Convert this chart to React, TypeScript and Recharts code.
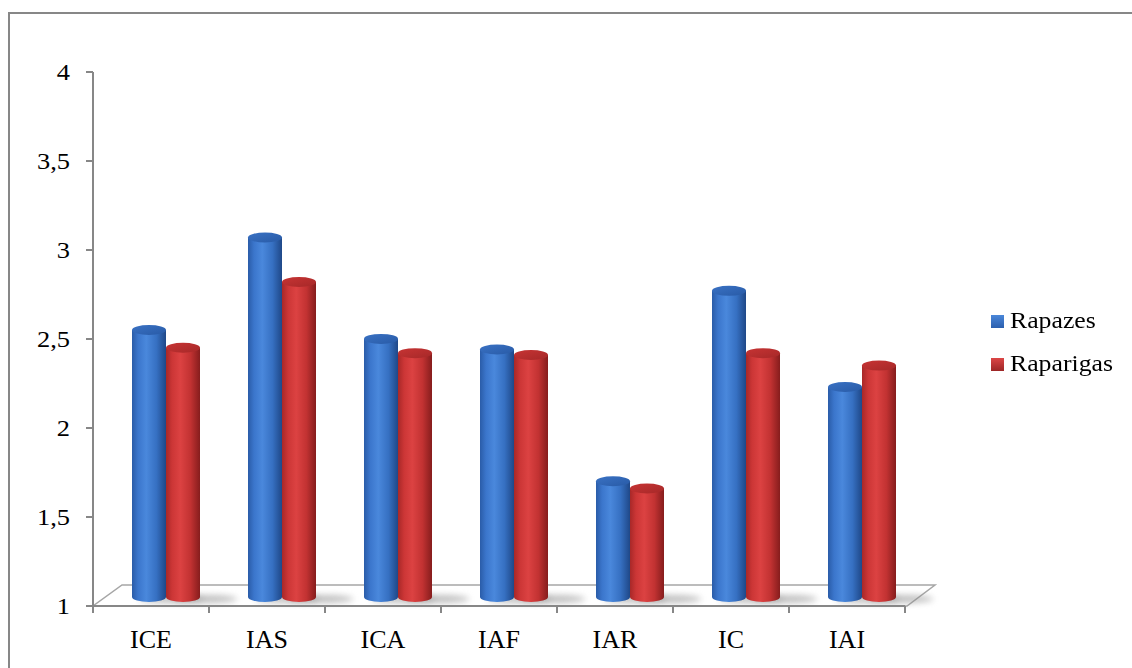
import React from 'react';
import { BarChart, Bar, XAxis, YAxis } from 'recharts';

// Mean scores per index, boys vs girls
const categories = ['ICE', 'IAS', 'ICA', 'IAF', 'IAR', 'IC', 'IAI'];
const rapazes = [2.5, 3.02, 2.45, 2.39, 1.65, 2.72, 2.18];
const raparigas = [2.4, 2.77, 2.37, 2.36, 1.61, 2.37, 2.3];
const seriesNames = ['Rapazes', 'Raparigas'];
const yTicks = [1, 1.5, 2, 2.5, 3, 3.5, 4];

const data = categories.map((name, i) => ({
  name,
  rapazes: rapazes[i],
  raparigas: raparigas[i],
}));

// ── Layout ───────────────────────────────────────────────────────────────────
const W = 1132;
const H = 668;
const PLOT_LEFT = 93;
const PLOT_TOP = 72;
const PLOT_RIGHT = 905;
const PLOT_BOTTOM = 606;
const BAND = (PLOT_RIGHT - PLOT_LEFT) / categories.length;
const DEPTH_X = 15; // bars sit halfway back on the 3D floor
const DEPTH_Y = 9;
const AXIS = '#878787';
const FONT = '"Liberation Serif", "Times New Roman", serif';

const tones = {
  blue: { body: 'url(#cylBlue)', cap: 'url(#capBlue)', key: 'url(#keyBlue)' },
  red: { body: 'url(#cylRed)', cap: 'url(#capRed)', key: 'url(#keyRed)' },
};

// ── Cylinder bar shape ───────────────────────────────────────────────────────
const Cylinder = ({ x, y, width, height, tone }: any) => {
  if (height == null || width == null) return null;
  const left = x + DEPTH_X;
  const right = left + width;
  const top = y - DEPTH_Y;
  const bottom = y + height - DEPTH_Y;
  const rx = width / 2;
  const ry = 5;
  const t = tones[tone as 'blue' | 'red'];
  const body = `M${left},${top} L${left},${bottom} A${rx},${ry} 0 0 0 ${right},${bottom} L${right},${top} Z`;
  return (
    <g>
      <ellipse
        cx={left + width * 0.5 + 22}
        cy={bottom + 2}
        rx={width * 0.95}
        ry={4}
        fill="#8c8c8c"
        opacity={0.55}
        filter="url(#floorShadow)"
      />
      <path d={body} fill={t.body} />
      <ellipse cx={left + rx} cy={top} rx={rx} ry={ry} fill={t.cap} />
    </g>
  );
};

// ── 3D floor under the bars ──────────────────────────────────────────────────
const Floor = () => (
  <polygon
    points={`${PLOT_LEFT},${PLOT_BOTTOM} ${PLOT_RIGHT + 2},${PLOT_BOTTOM} ${PLOT_RIGHT + 30},${PLOT_BOTTOM - 21} ${PLOT_LEFT + 29},${PLOT_BOTTOM - 21}`}
    fill="#ffffff"
    stroke="#a6a6a6"
    strokeWidth={1.5}
  />
);

// ── Axis ticks ───────────────────────────────────────────────────────────────
const CategoryTick = ({ x, payload, index }: any) => {
  const half = BAND / 2;
  return (
    <g>
      <line x1={x - half} y1={PLOT_BOTTOM} x2={x - half} y2={PLOT_BOTTOM + 7} stroke={AXIS} strokeWidth={2} />
      {index === categories.length - 1 && (
        <line x1={x + half} y1={PLOT_BOTTOM} x2={x + half} y2={PLOT_BOTTOM + 7} stroke={AXIS} strokeWidth={2} />
      )}
      <text x={x} y={648} textAnchor="middle" fontFamily={FONT} fontSize={26} fill="#000">
        {payload.value}
      </text>
    </g>
  );
};

const ValueTick = ({ x, y, payload }: any) => (
  <text
    transform={`translate(${x},${y + 8}) scale(1.1,1)`}
    textAnchor="end"
    fontFamily={FONT}
    fontSize={24}
    fill="#000"
  >
    {String(payload.value).replace('.', ',')}
  </text>
);

// ── Legend ───────────────────────────────────────────────────────────────────
const legendTones = ['blue', 'red'] as const;

const ChartLegend = () => (
  <div style={{ position: 'absolute', left: 991, top: 312, fontFamily: FONT }}>
    {seriesNames.map((name, i) => (
      <div key={name} style={{ position: 'relative', height: 43 }}>
        <div
          style={{
            position: 'absolute',
            left: 0,
            top: 3,
            width: 13,
            height: 13,
            background:
              legendTones[i] === 'blue'
                ? 'linear-gradient(#4a87d9, #2b5fae)'
                : 'linear-gradient(#dc4646, #9c2626)',
          }}
        />
        <span
          style={{
            position: 'absolute',
            left: 19,
            top: -4,
            fontSize: 23,
            color: '#000',
            whiteSpace: 'nowrap',
            transform: 'scaleX(1.12)',
            transformOrigin: 'left',
          }}
        >
          {name}
        </span>
      </div>
    ))}
  </div>
);

export default function App() {
  return (
    <div style={{ position: 'absolute', left: 0, top: 0, width: W, height: H, overflow: 'hidden', background: '#fff' }}>
      <div
        style={{
          position: 'absolute',
          left: 8,
          top: 12,
          width: 1200,
          height: 800,
          border: `2px solid ${AXIS}`,
        }}
      />
      <div style={{ position: 'absolute', left: 0, top: 0 }}>
        <BarChart
          width={W}
          height={H}
          data={data}
          margin={{ top: PLOT_TOP, right: W - PLOT_RIGHT, bottom: 0, left: 0 }}
          barSize={34}
          barGap={0}
        >
          <defs>
            <linearGradient id="cylBlue" x1="0" y1="0" x2="1" y2="0">
              <stop offset="0%" stopColor="#2a5ca8" />
              <stop offset="18%" stopColor="#3b76cc" />
              <stop offset="42%" stopColor="#4a88dc" />
              <stop offset="72%" stopColor="#3670c2" />
              <stop offset="100%" stopColor="#1f4888" />
            </linearGradient>
            <linearGradient id="capBlue" x1="0" y1="0" x2="1" y2="1">
              <stop offset="0%" stopColor="#3a72c4" />
              <stop offset="100%" stopColor="#285aa6" />
            </linearGradient>
            <linearGradient id="cylRed" x1="0" y1="0" x2="1" y2="0">
              <stop offset="0%" stopColor="#a82828" />
              <stop offset="18%" stopColor="#cc3636" />
              <stop offset="42%" stopColor="#dc4242" />
              <stop offset="72%" stopColor="#c23232" />
              <stop offset="100%" stopColor="#861d1d" />
            </linearGradient>
            <linearGradient id="capRed" x1="0" y1="0" x2="1" y2="1">
              <stop offset="0%" stopColor="#c73434" />
              <stop offset="100%" stopColor="#a62828" />
            </linearGradient>
            <filter id="floorShadow" x="-50%" y="-200%" width="200%" height="500%">
              <feGaussianBlur stdDeviation="3" />
            </filter>
          </defs>

          <Floor />

          <XAxis
            dataKey="name"
            interval={0}
            height={H - PLOT_BOTTOM}
            axisLine={{ stroke: AXIS, strokeWidth: 2 }}
            tickLine={false}
            tick={<CategoryTick />}
          />
          <YAxis
            type="number"
            domain={[1, 4]}
            ticks={yTicks}
            width={PLOT_LEFT}
            axisLine={{ stroke: AXIS, strokeWidth: 2 }}
            tickLine={{ stroke: AXIS, strokeWidth: 2 }}
            tickSize={7}
            tickMargin={16}
            tick={<ValueTick />}
          />

          <Bar
            dataKey="rapazes"
            name={seriesNames[0]}
            isAnimationActive={false}
            shape={(p: any) => <Cylinder {...p} tone="blue" />}
          />
          <Bar
            dataKey="raparigas"
            name={seriesNames[1]}
            isAnimationActive={false}
            shape={(p: any) => <Cylinder {...p} tone="red" />}
          />
        </BarChart>
      </div>
      <ChartLegend />
    </div>
  );
}
